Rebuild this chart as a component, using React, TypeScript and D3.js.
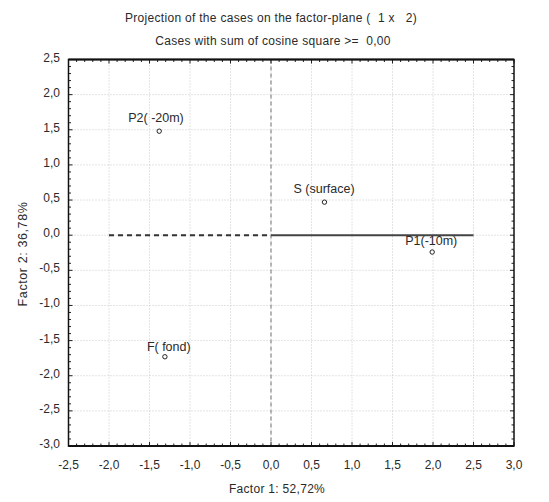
import React from "react";
import * as d3 from "d3";

const title1 = "Projection of the cases on the factor-plane (  1 x   2)";
const title2 = "Cases with sum of cosine square >=  0,00";
const xAxisTitle = "Factor 1: 52,72%";
const yAxisTitle = "Factor 2: 36,78%";

const xTicks = [-2.5, -2.0, -1.5, -1.0, -0.5, 0.0, 0.5, 1.0, 1.5, 2.0, 2.5, 3.0];
const yTicks = [2.5, 2.0, 1.5, 1.0, 0.5, 0.0, -0.5, -1.0, -1.5, -2.0, -2.5, -3.0];

const caseNames = ["P2( -20m)", "S (surface)", "P1(-10m)", "F( fond)"];
const factor1 = [-1.38, 0.66, 1.99, -1.31];
const factor2 = [1.48, 0.47, -0.24, -1.73];

// label offsets in px (style)
const labelDx = [-31, -31, -27, -18];
const labelDy = [-9, -9, -7, -6];

const W = 549;
const H = 502;
const M = { left: 68.5, right: 514, top: 59.5, bottom: 446 };

const fmt = (v: number) => d3.format(".1f")(v).replace(".", ",").replace("−", "-");

export default function App() {
  const x = d3.scaleLinear().domain([-2.5, 3.0]).range([M.left, M.right]);
  const y = d3.scaleLinear().domain([-3.0, 2.5]).range([M.bottom, M.top]);

  const minorX = d3.range(-25, 31).map((i) => i / 10);
  const minorY = d3.range(-30, 26).map((i) => i / 10);
  const isMajor = (v: number) => Math.abs(v * 2 - Math.round(v * 2)) < 1e-6;

  const font = "'Liberation Sans', Arial, sans-serif";
  const textColor = "#2a2a2a";
  const pre = { whiteSpace: "pre" as const };

  return (
    <svg
      width={W}
      height={H}
      style={{ position: "absolute", left: 0, top: 0, background: "#fff" }}
      fontFamily={font}
    >
      <rect x={0} y={0} width={W} height={H} fill="#fff" />
      {/* titles */}
      <text x={271} y={22} textAnchor="middle" fontSize={12} letterSpacing={0.3} fill={textColor} style={pre}>
        {title1}
      </text>
      <text x={273} y={45} textAnchor="middle" fontSize={12} letterSpacing={0.3} fill={textColor} style={pre}>
        {title2}
      </text>

      {/* grid */}
      <g stroke="#c8c8c8" strokeWidth={1} strokeDasharray="1,2">
        {xTicks.slice(1, -1).map((t) => (
          <line key={"gx" + t} x1={x(t)} x2={x(t)} y1={M.top} y2={M.bottom} />
        ))}
        {yTicks.slice(1, -1).map((t) => (
          <line key={"gy" + t} x1={M.left} x2={M.right} y1={y(t)} y2={y(t)} />
        ))}
      </g>

      {/* reference lines */}
      <line
        x1={x(0)}
        x2={x(0)}
        y1={M.top}
        y2={M.bottom}
        stroke="#8a8a8a"
        strokeWidth={1.2}
        strokeDasharray="4,3"
      />
      <line
        x1={x(-2.0)}
        x2={x(0)}
        y1={y(0)}
        y2={y(0)}
        stroke="#333"
        strokeWidth={2}
        strokeDasharray="5,4"
      />
      <line x1={x(0)} x2={x(2.5)} y1={y(0)} y2={y(0)} stroke="#444" strokeWidth={2} />

      {/* minor/major ticks */}
      <g stroke="#222" strokeWidth={1}>
        {minorX.map((t) => {
          const len = isMajor(t) ? 4 : 2.5;
          return (
            <g key={"tx" + t}>
              <line x1={x(t)} x2={x(t)} y1={M.bottom} y2={M.bottom - len} />
              <line x1={x(t)} x2={x(t)} y1={M.top} y2={M.top + len} />
            </g>
          );
        })}
        {minorY.map((t) => {
          const len = isMajor(t) ? 4 : 2.5;
          return (
            <g key={"ty" + t}>
              <line x1={M.left} x2={M.left + len} y1={y(t)} y2={y(t)} />
              <line x1={M.right} x2={M.right - len} y1={y(t)} y2={y(t)} />
            </g>
          );
        })}
      </g>

      {/* frame */}
      <rect
        x={M.left}
        y={M.top}
        width={M.right - M.left}
        height={M.bottom - M.top}
        fill="none"
        stroke="#111"
        strokeWidth={1.5}
      />
      <line x1={M.left} x2={M.right} y1={M.top} y2={M.top} stroke="#111" strokeWidth={2} />
      <line x1={M.left} x2={M.right} y1={M.bottom} y2={M.bottom} stroke="#111" strokeWidth={2} />

      {/* tick labels */}
      {xTicks.map((t) => (
        <text
          key={"lx" + t}
          x={x(t)}
          y={469}
          textAnchor="middle"
          fontSize={12}
          fill={textColor}
        >
          {fmt(t)}
        </text>
      ))}
      {yTicks.map((t) => (
        <text
          key={"ly" + t}
          x={60}
          y={y(t) + 2}
          textAnchor="end"
          fontSize={12}
          fill={textColor}
        >
          {fmt(t)}
        </text>
      ))}

      {/* axis titles */}
      <text x={277} y={493} textAnchor="middle" fontSize={12} letterSpacing={0.3} fill={textColor}>
        {xAxisTitle}
      </text>
      <text
        transform={`translate(27,254) rotate(-90)`}
        textAnchor="middle"
        fontSize={12.5}
        letterSpacing={0.6}
        fill={textColor}
      >
        {yAxisTitle}
      </text>

      {/* points */}
      {caseNames.map((name, i) => {
        const px = x(factor1[i]);
        const py = y(factor2[i]);
        return (
          <g key={name}>
            <circle cx={px} cy={py} r={2.2} fill="#fff" stroke="#222" strokeWidth={1} />
            <text
              x={px + labelDx[i]}
              y={py + labelDy[i]}
              fontSize={12.5}
              fill={textColor}
              style={pre}
            >
              {name}
            </text>
          </g>
        );
      })}
    </svg>
  );
}
